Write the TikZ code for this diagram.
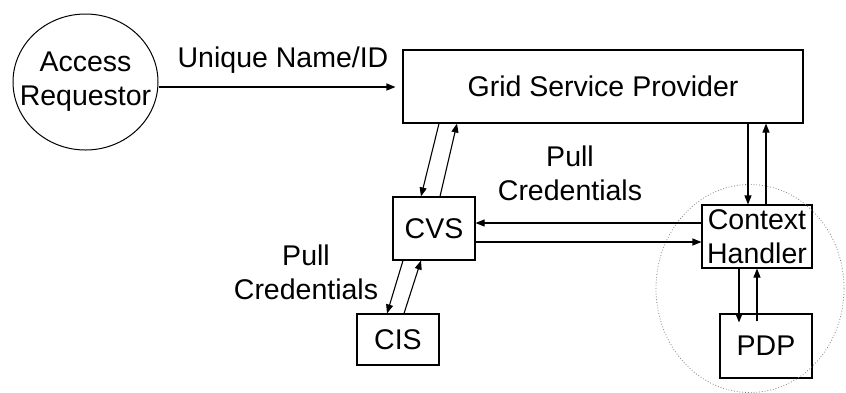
\documentclass[tikz,border=0pt]{standalone}
\usepackage{fontspec}
\setmainfont{Liberation Sans}
\usetikzlibrary{arrows.meta,shapes.geometric}
\begin{document}
\begin{tikzpicture}[x=1pt,y=-1pt,
  every node/.style={font=\fontsize{28.5}{34}\selectfont, inner sep=0pt},
  box/.style={draw, line width=1.1pt, rectangle, align=center},
  lbl/.style={align=center},
  arr/.style={line width=1.1pt, -{Triangle[length=9pt,width=7pt]}}]
\useasboundingbox (0,0) rectangle (846,392);
\node[draw, line width=1pt, ellipse, minimum width=145pt, minimum height=136pt] (AR) at (85.5,82) {};
\node[lbl] (ARt) at (AR.center) {Access\\Requestor};
\node[box, minimum width=400pt, minimum height=73pt] (GSP) at (603,86.5) {Grid Service Provider};
\node[box, minimum width=82pt, minimum height=63pt] (CVS) at (434,228.5) {CVS};
\node[box, minimum width=82pt, minimum height=51pt] (CIS) at (398,339.5) {CIS};
\node[box, minimum width=110pt, minimum height=63pt] (CH) at (757,236.5) {Context\\Handler};
\node[box, minimum width=92pt, minimum height=64pt] (PDP) at (766,346) {PDP};
\node[draw=gray, dotted, line width=0.8pt, ellipse, minimum width=188pt, minimum height=208pt] (DC) at (750,288.5) {};
\node[lbl] (L1) at (283,60) {Unique Name/ID};
\node[lbl] (L2) at (570,173) {Pull\\Credentials};
\node[lbl] (L3) at (306,272) {Pull\\Credentials};
% arrows
\draw[arr, shorten >=7pt] (AR.east |- 0,87) -- (GSP.west |- 0,87);
\draw[arr] (GSP.south -| 439,0) -- (CVS.north -| 421,0);
\draw[arr] (CVS.north -| 440,0) -- (GSP.south -| 457,0);
\draw[arr] (GSP.south -| 748,0) -- (CH.north -| 748,0);
\draw[arr] (CH.north -| 766,0) -- (GSP.south -| 766,0);
\draw[arr] (CH.west |- 0,223) -- (CVS.east |- 0,223);
\draw[arr] (CVS.east |- 0,242) -- (CH.west |- 0,242);
\draw[arr] (CH.south -| 739,0) -- ([yshift=-9pt]PDP.north -| 739,0);
\draw[arr] ([yshift=-8pt]PDP.north -| 757,0) -- (CH.south -| 757,0);
\draw[arr] (CVS.south -| 403,0) -- (CIS.north -| 387,0);
\draw[arr] (CIS.north -| 404,0) -- (CVS.south -| 421,0);
\end{tikzpicture}
\end{document}
